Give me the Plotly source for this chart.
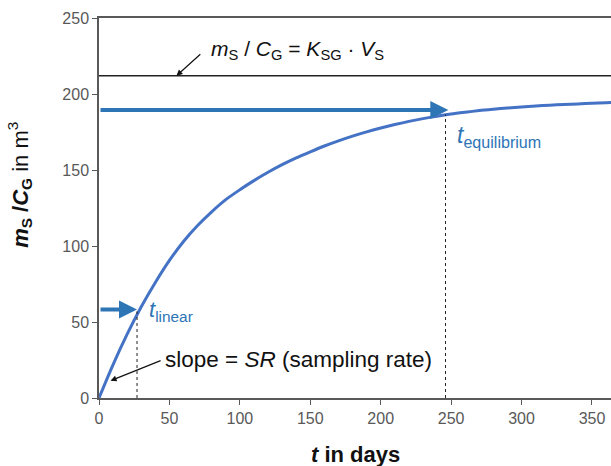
import plotly.graph_objects as go

# ---- data ----
t_days = [0, 10, 20, 30, 40, 50, 60, 70, 80, 90, 100, 110, 120, 130, 140, 150, 160, 170, 180,
          190, 200, 210, 220, 230, 240, 250, 260, 270, 280, 290, 300, 310, 320, 330, 340, 350, 360, 364]
ratio_m3 = [0, 22, 42, 60, 76, 90.5, 103, 113.5, 122.5, 130.5, 137, 143, 148.5, 153.5, 158, 162,
            165.8, 169.2, 172.3, 175.1, 177.6, 179.9, 182, 183.8, 185.4, 186.8, 188, 189.1, 190,
            190.8, 191.5, 192.1, 192.6, 193.1, 193.5, 193.9, 194.3, 194.5]

x_ticks = [0, 50, 100, 150, 200, 250, 300, 350]
y_ticks = [0, 50, 100, 150, 200, 250]

equilibrium_level = 212      # m_S / C_G = K_SG * V_S
t_linear = 27
t_linear_level = 57
t_equilibrium = 246
t_equilibrium_level = 186.5
arrow_lin_level = 58.3
arrow_eq_level = 189.5
arrow_eq_tip = 248

CURVE = "#4472C4"
ARROW_BLUE = "#2E75B6"
AXIS = "#595959"
FONT = "Liberation Sans, Arial, sans-serif"

fig = go.Figure()
fig.add_trace(go.Scatter(
    x=t_days, y=ratio_m3, mode="lines",
    line=dict(color=CURVE, width=3, shape="spline", smoothing=0.8),
    showlegend=False, hoverinfo="skip",
))

shapes = [
    dict(type="line", xref="paper", x0=0, x1=1, yref="y", y0=equilibrium_level, y1=equilibrium_level,
         line=dict(color="#222222", width=1.3)),
    dict(type="line", xref="x", x0=t_linear, x1=t_linear, yref="y", y0=0, y1=t_linear_level,
         line=dict(color="#222222", width=1, dash="dot")),
    dict(type="line", xref="x", x0=t_equilibrium, x1=t_equilibrium, yref="y", y0=0, y1=t_equilibrium_level,
         line=dict(color="#222222", width=1, dash="dot")),
]

annotations = [
    # formula arrow + label
    dict(x=55, y=equilibrium_level, xref="x", yref="y", ax=73, ay=227, axref="x", ayref="y",
         showarrow=True, arrowhead=2, arrowsize=1, arrowwidth=1.2, arrowcolor="#111111", text=""),
    dict(x=78, y=229, xref="x", yref="y", xanchor="left", yanchor="middle", showarrow=False,
         text="<i>m</i><sub>S</sub> / <i>C</i><sub>G</sub> = <i>K</i><sub>SG</sub> · <i>V</i><sub>S</sub>",
         font=dict(family=FONT, size=21, color="#111111")),
    # slope arrow + label
    dict(x=8.2, y=11.4, xref="x", yref="y", ax=44.8, ay=25, axref="x", ayref="y",
         showarrow=True, arrowhead=2, arrowsize=1, arrowwidth=1.2, arrowcolor="#111111", text=""),
    dict(x=45.5, y=25.5, xref="x", yref="y", xanchor="left", yanchor="middle", showarrow=False,
         text="slope = <i>SR</i> (sampling rate)",
         font=dict(family=FONT, size=22.5, color="#111111")),
    # blue arrows
    dict(x=t_linear, y=arrow_lin_level, xref="x", yref="y", ax=0, ay=arrow_lin_level,
         axref="x", ayref="y", showarrow=True, arrowhead=2, arrowsize=0.9, arrowwidth=4,
         arrowcolor=ARROW_BLUE, text=""),
    dict(x=arrow_eq_tip, y=arrow_eq_level, xref="x", yref="y", ax=0, ay=arrow_eq_level,
         axref="x", ayref="y", showarrow=True, arrowhead=2, arrowsize=0.9, arrowwidth=4,
         arrowcolor=ARROW_BLUE, text=""),
    # blue labels
    dict(x=34, y=57, xref="x", yref="y", xanchor="left", yanchor="middle", showarrow=False,
         text="<i>t</i><sub>linear</sub>", font=dict(family=FONT, size=22, color=ARROW_BLUE)),
    dict(x=253, y=172, xref="x", yref="y", xanchor="left", yanchor="middle", showarrow=False,
         text="<i>t</i><sub>equilibrium</sub>", font=dict(family=FONT, size=23, color=ARROW_BLUE)),
    # axis titles
    dict(xref="paper", yref="paper", x=0.5, y=-0.148, xanchor="center", yanchor="middle",
         showarrow=False, text="<b><i>t</i> in days</b>",
         font=dict(family=FONT, size=22, color="#111111")),
    dict(xref="paper", yref="paper", x=-0.155, y=0.56, xanchor="center", yanchor="middle",
         showarrow=False, textangle=-90,
         text="<b><i>m</i><sub>S</sub> /<i>C</i><sub>G</sub></b> in m<sup>3</sup>",
         font=dict(family=FONT, size=22, color="#111111")),
]

fig.update_layout(
    width=611, height=466,
    margin=dict(l=99, r=0, t=18, b=68),
    paper_bgcolor="white", plot_bgcolor="white",
    font=dict(family=FONT, size=16, color=AXIS),
    shapes=shapes,
    annotations=annotations,
    showlegend=False,
)

fig.update_xaxes(
    range=[0, 363.5], tickvals=x_ticks, ticktext=[str(v) for v in x_ticks],
    showline=True, linecolor=AXIS, linewidth=1.5, mirror=True,
    ticks="outside", ticklen=5, tickwidth=1.3, tickcolor=AXIS,
    showgrid=False, zeroline=False, tickfont=dict(size=16, color=AXIS),
)
fig.update_yaxes(
    range=[0, 250], tickvals=y_ticks, ticktext=[str(v) for v in y_ticks],
    showline=True, linecolor=AXIS, linewidth=1.5,
    ticks="outside", ticklen=5, tickwidth=1.3, tickcolor=AXIS,
    showgrid=False, zeroline=False, tickfont=dict(size=16, color=AXIS),
)

fig.write_html("out.html", config={"displayModeBar": False},
               post_script="document.body.style.margin='0';document.body.style.overflow='hidden';")
